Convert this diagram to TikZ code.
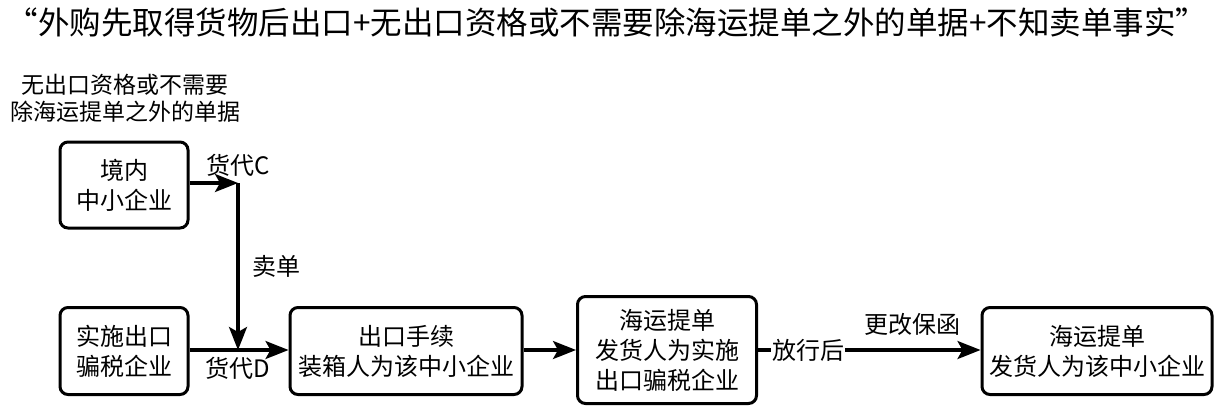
\documentclass[tikz,border=0pt]{standalone}
\usepackage{fontspec}
\setmainfont{Liberation Serif}
\newfontfamily\cjk{Noto Sans CJK SC}
\usetikzlibrary{positioning, arrows.meta}
\tikzset{
    stepbox/.style={draw, rounded corners=8pt, line width=3pt, align=center, inner sep=0pt, font=\cjk\fontsize{24}{30}\selectfont},
    lbl/.style={inner sep=1pt, font=\cjk\fontsize{24}{30}\selectfont},
    flow/.style={line width=3.2pt},
}

\begin{document}
\begin{tikzpicture}[
    x=1pt, y=-1pt,
    >={Stealth[length=23pt, width=18pt, inset=5pt]},
]
\useasboundingbox (0,0) rectangle (1215,405);
\node[lbl, font=\cjk\fontsize{31.5}{36}\selectfont] (title) at (607,22) {“外购先取得货物后出口+无出口资格或不需要除海运提单之外的单据+不知卖单事实”};
\node[lbl, align=center, font=\cjk\fontsize{23}{27}\selectfont] (note) at (125,98) {无出口资格或不需要\\除海运提单之外的单据};
\node[stepbox, minimum width=128pt, minimum height=86pt] (sme) at (124,185) {境内\\中小企业};
\node[stepbox, minimum width=128pt, minimum height=87pt] (fraud) at (124,351) {实施出口\\骗税企业};
\node[stepbox, minimum width=232pt, minimum height=87pt] (customs) at (406,351) {出口手续\\装箱人为该中小企业};
\node[stepbox, minimum width=179pt, minimum height=107pt] (bl) at (667,350) {海运提单\\发货人为实施\\出口骗税企业};
\node[lbl] (release) at (808,350) {放行后};
\node[stepbox, minimum width=230pt, minimum height=87pt] (newbl) at (1097,351) {海运提单\\发货人为该中小企业};
\coordinate (jc) at (238,183);
\coordinate (jd) at (238,350);
% forwarders and bill selling
\draw[flow, ->] (sme.east |- jc) -- (jc) node[lbl, above right=4pt and -34pt] (fwdc) {{\cjk 货代}C};
\draw[flow, ->] (jc) -- node[lbl, right=12pt] (sell) {卖单} (jd);
\draw[flow, ->] (fraud.east |- jd) -- (customs.west |- jd);
\node[lbl, below=6pt of jd] (fwdd) {{\cjk 货代}D};
% export flow
\draw[flow, ->] (customs.east |- jd) -- (bl.west |- jd);
\draw[flow] (bl.east |- jd) -- (release.west);
\draw[flow, ->] (release.east) -- node[lbl, above=12pt] (guar) {更改保函} (newbl.west |- release);
\end{tikzpicture}
\end{document}
